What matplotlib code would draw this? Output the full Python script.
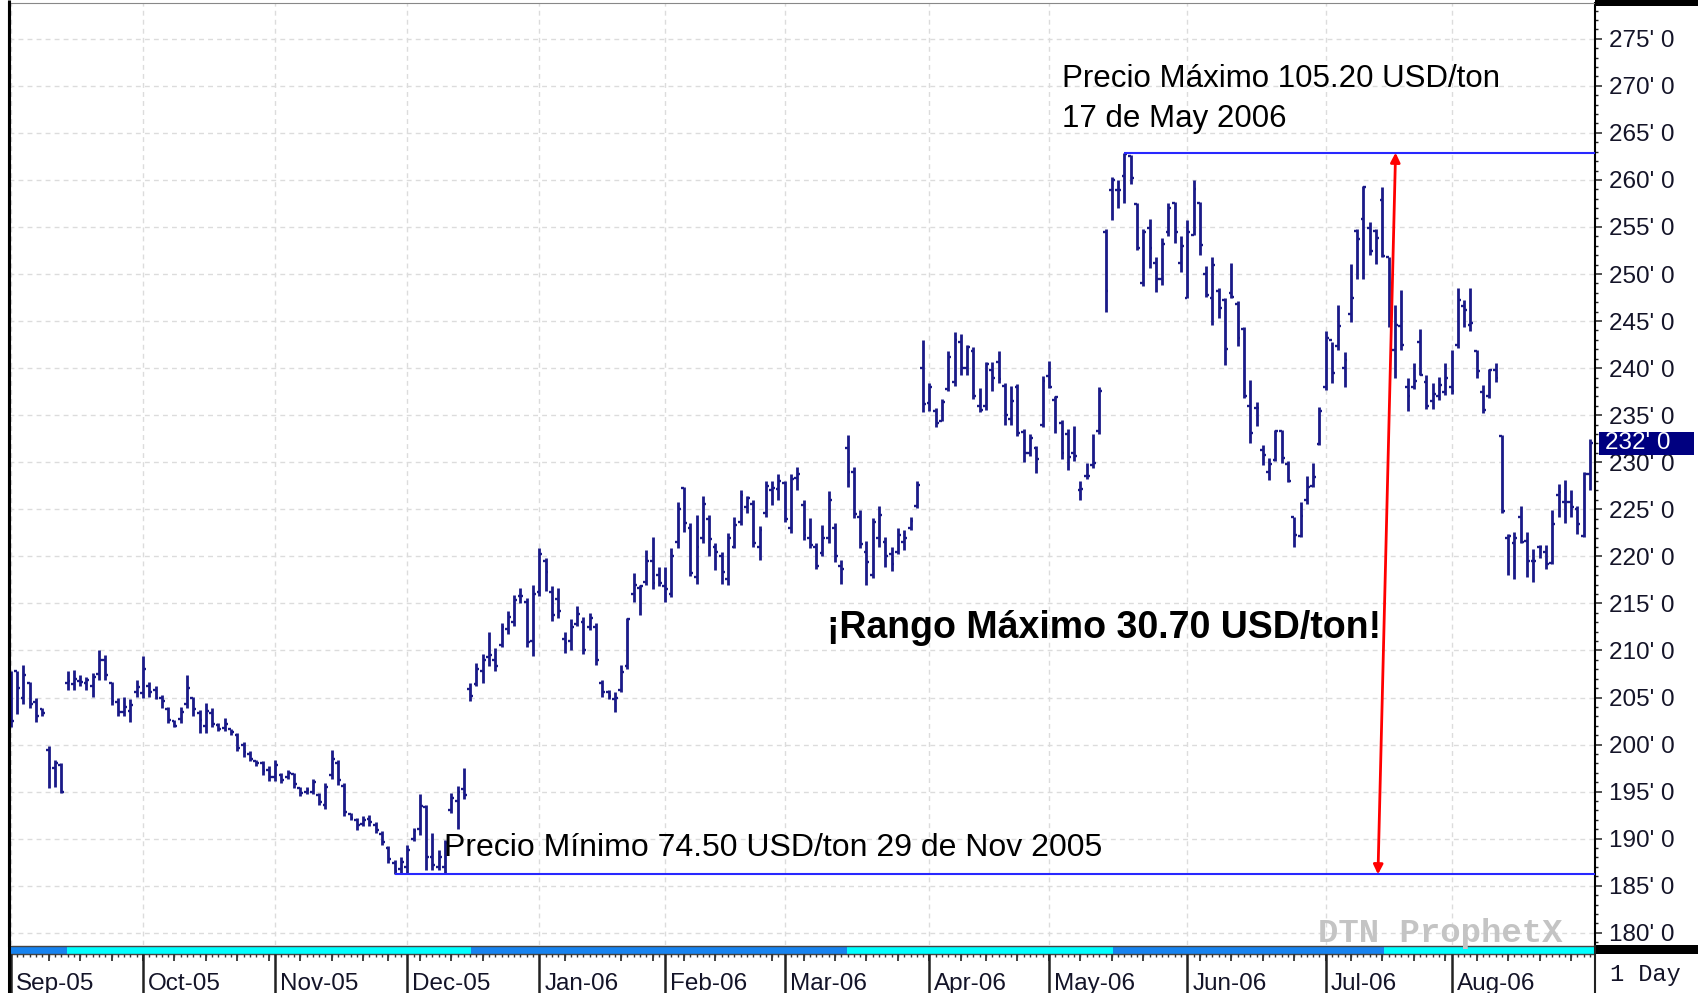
import matplotlib
matplotlib.use("Agg")
import matplotlib.pyplot as plt
import numpy as np
import pandas as pd
from matplotlib.patches import Rectangle
from matplotlib.transforms import blended_transform_factory
from matplotlib.ticker import FuncFormatter, MultipleLocator

plt.rcParams['font.family'] = ['Liberation Sans', 'DejaVu Sans']

# trading calendar Sep-05 .. Aug-06 (exchange holidays removed)
holidays = ["2005-09-05", "2005-11-24", "2005-12-26", "2006-01-02", "2006-01-16",
            "2006-02-20", "2006-04-14", "2006-05-29", "2006-07-04"]

# daily bars, one row per month
highs = [
    207.8, 207.8, 208.5, 206.7, 204.9, 203.9, 199.8, 198.4, 198.0, 207.8, 207.9, 207.4, 207.2, 207.6, 210.1, 209.5, 206.7, 204.9, 205.1, 204.8, 206.9,
    209.4, 206.7, 206.2, 205.3, 204.0, 202.6, 204.0, 207.4, 205.1, 203.7, 204.4, 203.9, 202.3, 202.8, 201.7, 201.2, 200.3, 199.3, 198.4, 198.2, 197.7,
    198.4, 197.0, 197.3, 197.0, 195.5, 195.5, 196.3, 194.8, 195.9, 199.4, 198.4, 195.9, 192.7, 192.2, 192.4, 192.5, 191.8, 190.8, 189.2, 187.7, 188.1,
    189.3, 191.1, 194.7, 193.6, 190.6, 188.8, 189.9, 194.9, 195.6, 197.5, 206.5, 208.7, 209.6, 212.0, 210.3, 212.9, 214.2, 215.9, 216.6, 215.6, 217.0,
    220.9, 219.8, 216.8, 216.6, 212.0, 213.3, 214.7, 213.6, 214.0, 212.9, 206.9, 205.8, 205.6, 208.5, 213.5, 218.2, 217.0, 220.7, 222.1, 218.9,
    218.9, 220.9, 225.8, 227.4, 223.5, 224.4, 226.4, 224.4, 221.4, 220.5, 222.5, 224.2, 227.1, 226.4, 226.0, 223.2, 228.0, 228.0, 228.8,
    228.0, 228.7, 229.5, 226.0, 224.1, 221.4, 223.3, 226.9, 223.5, 219.6, 232.9, 229.5, 224.9, 221.6, 224.1, 225.3, 222.1, 221.0, 223.0, 222.8, 224.2, 228.0, 243.0,
    238.4, 235.8, 236.7, 241.8, 243.8, 243.6, 242.5, 242.2, 237.9, 240.7, 240.6, 241.8, 238.4, 238.1, 238.3, 233.5, 233.0, 231.7, 239.2,
    240.8, 237.0, 234.5, 233.5, 233.8, 228.0, 229.9, 233.0, 238.0, 254.8, 260.3, 260.0, 262.9, 262.6, 257.5, 254.8, 255.9, 251.8, 253.8, 257.5, 257.7, 254.0,
    255.7, 260.0, 257.7, 250.9, 251.8, 248.5, 247.4, 251.2, 247.1, 244.4, 238.7, 236.4, 231.8, 230.4, 233.4, 233.4, 230.1, 224.2, 225.8, 228.5, 229.9, 235.9,
    243.9, 242.8, 246.7, 241.7, 251.1, 254.8, 259.4, 255.5, 254.8, 259.3, 251.8, 246.7, 248.3, 238.9, 240.5, 244.2, 239.3, 238.4, 239.1, 240.5,
    241.9, 248.5, 247.2, 248.5, 241.9, 238.2, 239.9, 240.5, 232.9, 222.4, 222.6, 225.3, 222.6, 220.8, 221.2, 221.2, 224.9, 227.7, 228.1, 227.0, 225.3, 229.0, 232.5,
]
lows = [
    201.9, 203.2, 204.3, 203.9, 202.4, 203.0, 195.4, 195.5, 194.8, 205.8, 205.8, 206.2, 205.8, 205.1, 206.9, 206.9, 204.2, 203.0, 203.0, 202.4, 205.1,
    204.9, 205.1, 204.8, 203.9, 202.3, 201.9, 202.3, 203.9, 203.0, 201.2, 201.2, 201.9, 201.4, 201.4, 201.0, 199.3, 198.7, 198.2, 197.7, 196.8, 196.1,
    196.1, 195.9, 196.3, 195.4, 194.5, 194.7, 194.7, 193.6, 193.2, 196.3, 195.7, 192.4, 192.0, 190.9, 191.3, 191.3, 190.6, 189.3, 187.4, 186.2, 186.3,
    186.4, 189.7, 190.4, 186.7, 186.7, 186.7, 186.2, 192.7, 191.0, 194.2, 204.6, 206.2, 206.5, 208.3, 207.8, 210.4, 211.7, 212.6, 215.0, 210.4, 209.4,
    215.8, 216.3, 213.1, 213.5, 209.7, 210.1, 212.6, 209.6, 212.2, 208.5, 205.1, 204.8, 203.5, 205.6, 208.0, 215.2, 213.8, 217.0, 216.5, 216.8,
    215.2, 215.7, 220.9, 222.6, 217.9, 217.1, 221.4, 220.0, 218.6, 217.1, 217.0, 220.9, 223.3, 224.6, 221.0, 219.6, 224.2, 225.5, 226.0,
    223.7, 222.5, 227.1, 221.7, 220.9, 218.7, 220.0, 221.4, 219.4, 217.1, 227.4, 224.1, 220.9, 217.0, 217.7, 221.0, 218.9, 218.4, 220.3, 220.7, 222.8, 225.1, 235.3,
    235.4, 233.7, 234.4, 237.6, 238.1, 239.3, 239.3, 236.7, 235.3, 235.6, 237.6, 238.4, 234.0, 234.0, 232.8, 230.0, 230.7, 228.9, 233.7,
    237.9, 233.1, 230.3, 229.2, 230.1, 226.0, 228.2, 229.4, 233.0, 246.0, 255.7, 257.0, 257.5, 259.6, 252.5, 248.7, 250.6, 248.1, 248.8, 254.0, 253.3, 250.2,
    247.4, 254.1, 252.0, 247.6, 244.6, 245.3, 240.3, 247.4, 242.3, 236.8, 232.0, 233.8, 229.7, 228.1, 230.1, 229.9, 227.9, 221.0, 222.1, 225.6, 227.4, 231.8,
    237.7, 238.4, 241.9, 238.0, 244.9, 249.5, 249.5, 252.0, 251.1, 251.8, 244.4, 238.9, 241.9, 235.4, 237.8, 239.3, 235.7, 235.7, 236.6, 237.1,
    237.3, 242.1, 244.4, 243.9, 238.9, 235.2, 236.8, 238.5, 224.6, 218.0, 217.6, 221.4, 217.8, 217.3, 219.8, 218.7, 219.2, 224.2, 223.5, 224.2, 222.4, 222.1, 227.0,
]
opens = [
    207.5, 207.8, 205.0, 206.5, 204.5, 203.8, 199.4, 197.5, 197.8, 206.5, 206.4, 206.8, 206.5, 206.2, 207.5, 209.0, 206.5, 204.5, 203.5, 203.6, 205.6,
    205.5, 206.2, 205.8, 205.0, 203.8, 202.5, 202.7, 204.3, 204.9, 203.3, 202.0, 203.4, 202.1, 201.8, 201.6, 201.0, 200.0, 199.0, 198.3, 198.0, 197.3,
    196.5, 196.8, 196.6, 196.9, 195.4, 195.0, 195.0, 194.6, 193.6, 196.8, 198.0, 195.6, 192.6, 192.0, 191.6, 192.1, 191.5, 190.5, 189.0, 187.4, 186.8,
    187.0, 190.0, 191.0, 193.4, 188.0, 187.0, 187.0, 193.0, 194.0, 195.3, 205.9, 206.4, 207.8, 209.3, 209.0, 210.6, 212.3, 213.0, 215.8, 215.2, 211.0,
    216.2, 219.5, 216.2, 215.5, 211.2, 211.0, 212.8, 213.0, 212.5, 212.5, 206.5, 205.6, 204.8, 205.8, 208.4, 216.0, 216.6, 217.3, 219.5, 218.0,
    216.8, 216.0, 221.5, 227.3, 223.0, 217.8, 222.0, 224.0, 221.0, 220.0, 217.6, 221.0, 223.6, 225.2, 225.6, 221.0, 224.6, 227.0, 227.2,
    227.8, 223.0, 228.3, 225.5, 222.0, 221.0, 220.4, 222.0, 223.0, 219.0, 231.5, 229.0, 224.2, 220.5, 218.0, 222.0, 221.5, 220.2, 220.5, 221.5, 223.0, 225.4, 240.0,
    236.3, 235.4, 234.4, 237.8, 238.5, 242.8, 240.0, 241.8, 236.0, 236.0, 239.8, 240.6, 238.1, 234.6, 238.0, 233.2, 231.0, 231.5, 234.0,
    239.2, 236.6, 234.2, 233.0, 231.0, 227.0, 228.5, 229.7, 233.3, 254.5, 258.9, 258.9, 260.4, 262.5, 257.4, 249.0, 254.9, 251.2, 249.5, 254.5, 257.5, 251.2,
    247.5, 254.2, 257.6, 250.0, 247.5, 248.2, 247.2, 248.0, 246.8, 244.2, 236.0, 235.8, 231.3, 229.0, 230.2, 233.3, 229.8, 224.2, 222.2, 226.0, 227.5, 231.9,
    238.0, 243.0, 242.3, 240.0, 245.8, 254.6, 255.8, 254.9, 254.6, 257.9, 251.8, 241.9, 244.5, 238.0, 238.0, 242.8, 238.5, 236.5, 237.0, 237.5,
    238.0, 242.5, 246.6, 244.6, 241.8, 237.5, 237.0, 239.8, 232.8, 222.0, 221.4, 224.2, 221.6, 219.5, 221.0, 220.5, 219.3, 226.5, 225.8, 225.8, 225.0, 222.2, 228.8,
]
closes = [
    202.5, 206.0, 207.4, 204.3, 203.0, 203.4, 197.5, 198.0, 195.0, 206.8, 207.0, 206.7, 206.9, 207.2, 209.0, 207.4, 204.6, 203.5, 204.0, 204.2, 206.1,
    208.0, 205.6, 205.0, 204.6, 202.6, 202.0, 203.5, 206.0, 203.8, 202.6, 203.6, 202.2, 201.7, 202.2, 201.3, 199.6, 199.2, 198.5, 198.0, 197.2, 196.5,
    197.8, 196.2, 197.0, 195.8, 194.8, 195.2, 196.0, 193.9, 195.5, 198.5, 196.2, 192.8, 192.2, 191.5, 192.0, 191.8, 190.9, 189.6, 187.8, 186.6, 187.5,
    188.8, 190.8, 193.5, 188.0, 187.2, 188.0, 189.5, 194.3, 195.0, 194.6, 205.2, 208.0, 209.0, 209.5, 208.4, 212.5, 213.6, 215.4, 215.8, 210.9, 216.0,
    220.2, 218.3, 213.8, 214.2, 210.8, 212.5, 213.9, 210.0, 213.5, 209.0, 205.6, 205.2, 204.9, 207.7, 213.3, 217.0, 216.9, 219.5, 217.2, 217.2,
    216.5, 220.0, 225.0, 223.5, 218.2, 221.0, 225.6, 221.8, 220.5, 218.3, 222.0, 223.3, 226.5, 226.2, 221.4, 222.8, 227.5, 227.3, 228.0,
    224.0, 228.2, 228.8, 222.3, 221.2, 219.0, 222.0, 226.0, 220.0, 218.7, 229.0, 224.5, 221.3, 219.4, 223.6, 224.4, 220.0, 219.2, 222.3, 222.0, 223.8, 227.6, 236.2,
    238.0, 234.2, 236.4, 241.2, 243.0, 240.0, 242.2, 237.0, 235.6, 240.4, 239.0, 238.8, 235.0, 236.5, 233.1, 231.0, 232.6, 230.3, 238.6,
    238.0, 236.9, 231.0, 230.6, 230.7, 227.2, 228.5, 229.9, 237.6, 248.2, 260.0, 258.9, 262.8, 260.2, 252.8, 254.5, 252.8, 249.5, 253.2, 257.0, 254.5, 253.0,
    254.5, 259.0, 253.1, 247.8, 251.0, 246.4, 242.0, 247.6, 243.2, 237.0, 233.1, 235.8, 230.8, 229.8, 233.3, 230.5, 228.0, 222.3, 224.3, 227.4, 228.4, 235.4,
    243.2, 239.5, 244.5, 240.9, 247.5, 253.7, 259.2, 252.4, 253.8, 251.9, 245.0, 244.6, 242.5, 237.0, 238.6, 239.3, 236.0, 237.3, 238.2, 239.0,
    237.6, 247.2, 246.2, 244.8, 239.7, 235.6, 239.8, 239.0, 224.8, 222.2, 222.0, 221.5, 219.5, 219.5, 221.0, 219.2, 223.4, 226.8, 225.8, 225.2, 223.4, 228.7, 232.0,
]

# contract roll points (bar index where the strip colour changes)
roll_points = [8.9, 73.1, 132.9, 175.2, 218.3]

max_idx, max_price = 177, 262.9
min_idx, min_price = 61, 186.2
last_price = 232.0

max_text = "Precio Máximo 105.20 USD/ton\n17 de May 2006"
min_text = "Precio Mínimo 74.50 USD/ton 29 de Nov 2005"
range_text = "¡Rango Máximo 30.70 USD/ton!"

W, H = 1699, 993
BAR_C = "#1a1a88"
LINE_C = "#2828ff"
TXT_C = "#141428"


def px_box(x0, y0, x1, y1):
    return [x0 / W, 1 - y1 / H, (x1 - x0) / W, (y1 - y0) / H]


days = pd.bdate_range("2005-09-01", "2006-08-31")
days = days[~days.isin(pd.to_datetime(holidays))]
idx = np.arange(len(days))
month_start = idx[np.r_[True, days.month[1:] != days.month[:-1]]]
mondays = idx[days.dayofweek == 0]

fig = plt.figure(figsize=(W / 100, H / 100), dpi=100)
fig.patch.set_facecolor("white")

xlim = (-0.3, len(days) - 0.2)
ax = fig.add_axes(px_box(9, 3, 1595, 945))
ax.set_xlim(*xlim)
ax.set_ylim(178.7, 278.8)

# grid
ax.set_xticks(month_start)
ax.tick_params(axis="x", length=0, labelbottom=False)
ax.yaxis.set_major_locator(MultipleLocator(5))
ax.yaxis.set_minor_locator(MultipleLocator(1))
ax.grid(True, color="#dcdcdc", linestyle=(0, (3.5, 3)), linewidth=1)
ax.set_axisbelow(True)

# right price scale
ax.yaxis.tick_right()
ax.yaxis.set_major_formatter(FuncFormatter(lambda v, p: f"{v:.0f}' 0"))
ax.tick_params(axis="y", which="major", length=5, width=1.1, pad=5,
               labelsize=17.5, labelcolor=TXT_C, color="#222222")
ax.tick_params(axis="y", which="minor", length=2.5, width=1, color="#222222")

ax.spines["bottom"].set_visible(False)
ax.spines["left"].set_linewidth(2.2)
ax.spines["right"].set_linewidth(1.5)
ax.spines["top"].set_color("#888888")

# OHLC bars
ax.vlines(idx, lows, highs, color=BAR_C, lw=2.0, zorder=3)
ax.hlines(opens, idx - 0.45, idx, color=BAR_C, lw=1.7, zorder=3)
ax.hlines(closes, idx, idx + 0.45, color=BAR_C, lw=1.7, zorder=3)

# max / min lines and range arrow
ax.hlines(max_price, max_idx, xlim[1], color=LINE_C, lw=1.5, zorder=4)
ax.hlines(min_price, min_idx, xlim[1], color=LINE_C, lw=1.5, zorder=4)
ax.annotate("", xy=(220.1, max_price), xytext=(217.3, min_price),
            arrowprops=dict(arrowstyle="<|-|>", color="red", lw=2,
                            mutation_scale=14, shrinkA=0, shrinkB=0), zorder=5)

ax.text(167.1, 268.6, max_text, fontsize=22.5, va="center", linespacing=1.42)
ax.text(68.9, 189.0, min_text, fontsize=23, va="center")
ax.text(129.7, 212.4, range_text, fontsize=27, fontweight="bold", va="center")

# last price box on the scale
tr = blended_transform_factory(ax.transAxes, ax.transData)
ax.add_patch(Rectangle((1.0025, last_price - 1.25), 0.06, 2.5, transform=tr,
                       facecolor="#000080", edgecolor="none", clip_on=False, zorder=6))
ax.text(1.006, last_price, f"{last_price:.0f}' 0", transform=tr, color="white",
        fontsize=17.5, va="center", clip_on=False, zorder=7)

# date strip
dax = fig.add_axes(px_box(9, 945, 1595, 993))
dax.set_xlim(*xlim)
dax.set_ylim(48, 0)
dax.axis("off")
edges = [xlim[0]] + roll_points + [xlim[1]]
for k in range(len(edges) - 1):
    dax.add_patch(Rectangle((edges[k], 0.5), edges[k + 1] - edges[k], 8,
                            facecolor=["#1683f0", "#00ffff"][k % 2], edgecolor="none"))
dax.axhline(0.5, color="#444444", lw=1)
dax.axhline(8.8, color="#444444", lw=1)
dax.vlines(idx, 9, 12, color="#333333", lw=1)
dax.vlines(mondays, 9, 16, color="#333333", lw=1.3)
dax.vlines(month_start, 9, 48, color="#222222", lw=1.8)
for m in month_start:
    dax.text(m + 0.8, 45, days[m].strftime("%b-%y"), fontsize=17.5, color=TXT_C,
             va="baseline", ha="left")

# frame decorations in figure pixels
ov = fig.add_axes([0, 0, 1, 1])
ov.set_xlim(0, W)
ov.set_ylim(H, 0)
ov.axis("off")
ov.patch.set_alpha(0)
ov.add_patch(Rectangle((1595, 0), W - 1595, 6, facecolor="black"))
ov.add_patch(Rectangle((1595, 945), W - 1595, 9, facecolor="black"))
ov.vlines(1595, 945, H, color="#222222", lw=1.5)
ov.vlines(9, 0, H, color="black", lw=2.2)
ov.text(1610, 975, "1 Day", family="Liberation Mono", fontsize=17, color=TXT_C, va="center")
ov.text(1318, 942, "DTN ProphetX", family="Liberation Mono", fontweight="bold",
        fontsize=24.5, color="#c4c4c4", va="baseline")

fig.savefig("out.png", dpi=100)
